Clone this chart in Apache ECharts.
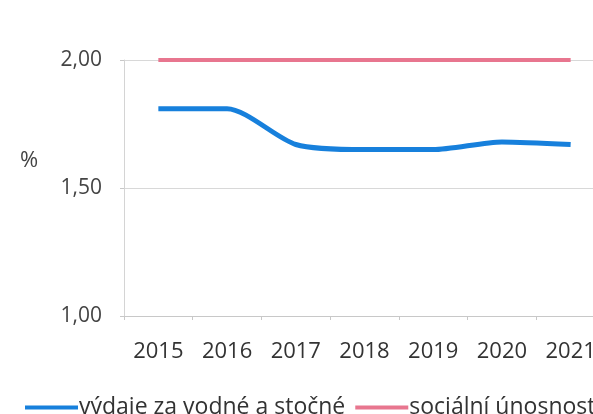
<!DOCTYPE html>
<html lang="cs">
<head>
    <meta charset="UTF-8">
    <script src="https://cdn.jsdelivr.net/npm/echarts@6/dist/echarts.min.js"></script>
    <title>Výdaje za vodné a stočné</title>
    <style>
        html, body { margin: 0; padding: 0; background: #fff; }
    </style>
</head>
<body>
    <div id="main" style="width:593px;height:414px"></div>
    <script>
        var years = ['2015', '2016', '2017', '2018', '2019', '2020', '2021'];
        var vydaje = [1.81, 1.81, 1.67, 1.65, 1.65, 1.68, 1.67];
        var unosnost = [2.00, 2.00, 2.00, 2.00, 2.00, 2.00, 2.00];
        var yTicks = [1.0, 1.5, 2.0];

        var font = '"Open Sans", Lato, sans-serif';
        var echart = echarts.init(document.getElementById('main'));
        var option = {
            backgroundColor: '#fff',
            animation: false,
            grid: {
                left: 124,
                width: 481,
                top: 60,
                height: 256,
                outerBoundsMode: 'none'
            },
            graphic: [{
                type: 'text',
                left: 20,
                top: 150,
                style: { text: '%', fontSize: 22, fill: '#444', fontFamily: font }
            }],
            legend: {
                left: 20,
                top: 391,
                width: 640,
                itemWidth: 53,
                itemHeight: 4,
                itemGap: 10,
                icon: 'rect',
                textStyle: { fontSize: 23, color: '#333', fontFamily: font, padding: [0, 0, 0, -4] },
                data: ['výdaje za vodné a stočné', 'sociální únosnost']
            },
            xAxis: {
                type: 'category',
                data: years,
                boundaryGap: true,
                axisLine: { lineStyle: { color: '#c8c8c8' } },
                axisTick: { show: true, length: 4, lineStyle: { color: '#c8c8c8' } },
                axisLabel: { fontSize: 22, color: '#333', margin: 25, fontFamily: font }
            },
            yAxis: {
                type: 'value',
                min: yTicks[0],
                max: yTicks[yTicks.length - 1],
                interval: 0.5,
                axisLine: { show: true, lineStyle: { color: '#d4d4d4' } },
                axisTick: { show: true, length: 4, lineStyle: { color: '#c8c8c8' } },
                splitLine: { lineStyle: { color: '#d8d8d8' } },
                axisLabel: {
                    fontSize: 21, color: '#444', margin: 22, fontFamily: font,
                    formatter: function (v) { return v.toFixed(2).replace('.', ','); }
                }
            },
            series: [
                {
                    name: 'výdaje za vodné a stočné',
                    type: 'line',
                    data: vydaje,
                    smooth: 0.25,
                    symbol: 'none',
                    lineStyle: { color: '#1780dc', width: 5 },
                    itemStyle: { color: '#1780dc' }
                },
                {
                    name: 'sociální únosnost',
                    type: 'line',
                    data: unosnost,
                    symbol: 'none',
                    lineStyle: { color: '#e8768f', width: 4 },
                    itemStyle: { color: '#e8768f' }
                }
            ]
        };
        echart.setOption(option);
    </script>
</body>
</html>
